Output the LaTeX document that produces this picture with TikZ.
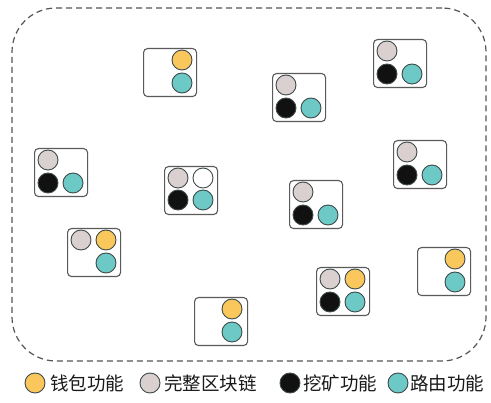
\documentclass[tikz,border=0pt]{standalone}
\usepackage{fontspec}
\newfontfamily\cjk{Noto Sans CJK SC}
\usetikzlibrary{calc}
\definecolor{cy}{HTML}{FAC75C}
\definecolor{cg}{HTML}{DAD0D0}
\definecolor{ck}{HTML}{111111}
\definecolor{ct}{HTML}{6CC9C6}
\definecolor{cw}{HTML}{FFFFFF}
\definecolor{dotline}{HTML}{3F4A4A}
\definecolor{boxline}{HTML}{5A5A5A}
\definecolor{frameline}{HTML}{555555}
\tikzset{
  box/.style={draw=boxline, line width=1.1pt, rounded corners=4pt, minimum width=53pt, minimum height=48pt, anchor=north west, inner sep=0pt},
  dot/.style={circle, draw=dotline, line width=0.9pt, minimum size=20pt, inner sep=0pt},
  frame/.style={draw=frameline, dashed, dash pattern=on 6pt off 4pt, line width=1.2pt, rounded corners=44pt, minimum width=474pt, minimum height=353pt, inner sep=0pt},
  legtext/.style={anchor=west, inner sep=0pt, font=\cjk\fontsize{18.5}{19}\selectfont, text=black!90}
}
\begin{document}
\begin{tikzpicture}[x=1pt,y=-1pt]
\useasboundingbox (0,0) rectangle (491,403);
\node[frame] (frame) at (249,184.5) {};
% A
\node[box] (A) at (143,48) {};
\node[dot, fill=cy] (A2) at ($(A.north west)+(39,12)$) {};
\node[dot, fill=ct] (A4) at ($(A.north west)+(39,35)$) {};
% B
\node[box] (B) at (373,39) {};
\node[dot, fill=cg] (B1) at ($(B.north west)+(14,12)$) {};
\node[dot, fill=ck] (B3) at ($(B.north west)+(14,35)$) {};
\node[dot, fill=ct] (B4) at ($(B.north west)+(39,35)$) {};
% C
\node[box] (C) at (272,73) {};
\node[dot, fill=cg] (C1) at ($(C.north west)+(14,12)$) {};
\node[dot, fill=ck] (C3) at ($(C.north west)+(14,35)$) {};
\node[dot, fill=ct] (C4) at ($(C.north west)+(39,35)$) {};
% D
\node[box] (D) at (34,148) {};
\node[dot, fill=cg] (D1) at ($(D.north west)+(14,12)$) {};
\node[dot, fill=ck] (D3) at ($(D.north west)+(14,35)$) {};
\node[dot, fill=ct] (D4) at ($(D.north west)+(39,35)$) {};
% E
\node[box] (E) at (164,166) {};
\node[dot, fill=cg] (E1) at ($(E.north west)+(14,12)$) {};
\node[dot, fill=cw] (E2) at ($(E.north west)+(39,12)$) {};
\node[dot, fill=ck] (E3) at ($(E.north west)+(14,34)$) {};
\node[dot, fill=ct] (E4) at ($(E.north west)+(39,34)$) {};
% F
\node[box] (F) at (289,180) {};
\node[dot, fill=cg] (F1) at ($(F.north west)+(14,12)$) {};
\node[dot, fill=ck] (F3) at ($(F.north west)+(14,35)$) {};
\node[dot, fill=ct] (F4) at ($(F.north west)+(39,35)$) {};
% G
\node[box] (G) at (393,140) {};
\node[dot, fill=cg] (G1) at ($(G.north west)+(14,12)$) {};
\node[dot, fill=ck] (G3) at ($(G.north west)+(14,35)$) {};
\node[dot, fill=ct] (G4) at ($(G.north west)+(39,35)$) {};
% H
\node[box] (H) at (67,228) {};
\node[dot, fill=cg] (H1) at ($(H.north west)+(14,12)$) {};
\node[dot, fill=cy] (H2) at ($(H.north west)+(39,12)$) {};
\node[dot, fill=ct] (H4) at ($(H.north west)+(39,35)$) {};
% I
\node[box] (I) at (417,247) {};
\node[dot, fill=cy] (I2) at ($(I.north west)+(38,12)$) {};
\node[dot, fill=ct] (I4) at ($(I.north west)+(38,35)$) {};
% J
\node[box] (J) at (316,267) {};
\node[dot, fill=cg] (J1) at ($(J.north west)+(14,12)$) {};
\node[dot, fill=cy] (J2) at ($(J.north west)+(39,12)$) {};
\node[dot, fill=ck] (J3) at ($(J.north west)+(14,35)$) {};
\node[dot, fill=ct] (J4) at ($(J.north west)+(39,35)$) {};
% K
\node[box] (K) at (194,297) {};
\node[dot, fill=cy] (K2) at ($(K.north west)+(38,12)$) {};
\node[dot, fill=ct] (K4) at ($(K.north west)+(38,35)$) {};
% legend
\node[dot, fill=cy] (L1) at (35,383) {};
\node[legtext] (T1) at (50,383) {钱包功能};
\node[dot, fill=cg] (L2) at (150,383) {};
\node[legtext] (T2) at (164,383) {完整区块链};
\node[dot, fill=ck] (L3) at (290,383) {};
\node[legtext] (T3) at (303,383) {挖矿功能};
\node[dot, fill=ct] (L4) at (398,383) {};
\node[legtext] (T4) at (410,383) {路由功能};
\end{tikzpicture}
\end{document}
